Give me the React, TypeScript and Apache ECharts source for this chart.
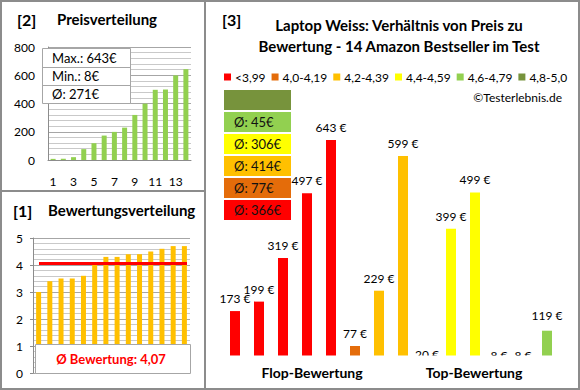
import React, { useEffect, useRef } from "react";
import * as echarts from "echarts";

// ---------- data ----------
const priceCategories = ["1", "2", "3", "4", "5", "6", "7", "8", "9", "10", "11", "12", "13", "14"];
const pricesSorted = [8, 8, 20, 77, 119, 173, 199, 229, 319, 399, 497, 499, 599, 643];
const ratingsSorted = [3.0, 3.4, 3.5, 3.5, 3.6, 4.0, 4.3, 4.3, 4.4, 4.4, 4.5, 4.6, 4.7, 4.7];
const ratingAverage = 4.07;
const ratingAverageLabel = "Ø Bewertung: 4,07";
const priceStats = ["Max.: 643€", "Min.: 8€", "Ø: 271€"];

const groupNames = ["<3,99", "4,0-4,19", "4,2-4,39", "4,4-4,59", "4,6-4,79", "4,8-5,0"];
const groupColors = ["#FF0000", "#E46C0A", "#FFC000", "#FFFF00", "#92D050", "#77933C"];
const productPrices = [173, 199, 319, 497, 643, 77, 229, 599, 20, 399, 499, 8, 8, 119];
const productGroup = [0, 0, 0, 0, 0, 1, 2, 2, 3, 3, 3, 4, 4, 4];
const groupAverages = ["Ø: 366€", "Ø: 77€", "Ø: 414€", "Ø: 306€", "Ø: 45€", ""];

const FONT = "Lato, 'Liberation Sans', sans-serif";
const GRID_COLOR = "#a6a6a6";
const MINOR_COLOR = "#c9c9c9";
const BORDER = "#8c8c8c";

export default function App() {
  const ref = useRef<HTMLDivElement>(null);

  useEffect(() => {
    document.body.style.margin = "0";
    if (!ref.current) return;
    const chart = echarts.init(ref.current, undefined, { renderer: "svg" });

    const graphic: any[] = [];
    // frame
    graphic.push({ type: "rect", z: 200, shape: { x: 1, y: 1, width: 578, height: 388 }, style: { fill: "none", stroke: BORDER, lineWidth: 2 } });
    graphic.push({ type: "line", z: 200, shape: { x1: 205, y1: 0, x2: 205, y2: 390 }, style: { stroke: BORDER, lineWidth: 2 } });
    graphic.push({ type: "line", z: 200, shape: { x1: 0, y1: 191, x2: 205, y2: 191 }, style: { stroke: BORDER, lineWidth: 2 } });

    const txt = (
      text: string,
      x: number,
      y: number,
      size: number,
      weight: string,
      align = "left",
      color = "#000",
      lineHeight?: number
    ) => ({
      type: "text",
      z: 120,
      x,
      y,
      style: {
        text,
        fontFamily: FONT,
        fontSize: size,
        fontWeight: weight,
        fill: color,
        align,
        verticalAlign: "middle",
        ...(lineHeight ? { lineHeight } : {}),
      },
    });

    graphic.push(txt("[2]", 17, 19, 16, "bold"));
    graphic.push(txt("Preisverteilung", 57, 19, 15, "bold"));
    graphic.push(txt("[1]", 13, 210, 16, "bold"));
    graphic.push(txt("Bewertungsverteilung", 48, 210, 15, "bold"));
    graphic.push(txt("[3]", 222, 19, 16, "bold"));
    graphic.push(txt("Laptop Weiss: Verhältnis von Preis zu", 399, 25, 15, "bold", "center"));
    graphic.push(txt("Bewertung - 14 Amazon Bestseller im Test", 399, 46, 15, "bold", "center"));
    graphic.push(txt("©Testerlebnis.de", 562, 97, 12, "normal", "right"));

    // price stats box
    graphic.push({ type: "rect", z: 100, shape: { x: 42.5, y: 48.5, width: 88, height: 55 }, style: { fill: "#fff", stroke: "#a6a6a6", lineWidth: 1 } });
    graphic.push({ type: "line", z: 101, shape: { x1: 42.5, y1: 67.5, x2: 130.5, y2: 67.5 }, style: { stroke: "#a6a6a6", lineWidth: 1 } });
    graphic.push({ type: "line", z: 101, shape: { x1: 42.5, y1: 85.5, x2: 130.5, y2: 85.5 }, style: { stroke: "#a6a6a6", lineWidth: 1 } });
    priceStats.forEach((s, i) => graphic.push(txt(s, 52, 58 + i * 18, 13, "normal")));

    // rating average box
    graphic.push({ type: "rect", z: 100, shape: { x: 35.5, y: 344.5, width: 155, height: 29 }, style: { fill: "#fff", stroke: "#a6a6a6", lineWidth: 1 } });
    graphic.push(txt(ratingAverageLabel, 111, 359, 13, "bold", "center", "#FF0000"));

    // group average boxes (bottom = red ... top = dark green)
    groupAverages.forEach((s, i) => {
      const y = 200 - i * 22;
      graphic.push({ type: "rect", z: 100, shape: { x: 224, y, width: 67, height: 20 }, style: { fill: groupColors[i] } });
      if (s) graphic.push(txt(s, 234, y + 10, 13, "normal", "left", "#111"));
    });

    // cover below plot baseline of right chart (clips low bars/labels)
    graphic.push({ type: "rect", z: 90, shape: { x: 207, y: 355.5, width: 370, height: 32 }, style: { fill: "#fff" } });
    graphic.push(txt("Flop-Bewertung", 312, 372, 14, "bold", "center", "#000", 13));
    graphic.push(txt("Top-Bewertung", 474, 372, 14, "bold", "center", "#000", 13));

    const rightSeries = groupNames.map((name, g) => ({
      type: "bar",
      name,
      xAxisIndex: 2,
      yAxisIndex: 2,
      barWidth: 10,
      barGap: "-100%",
      itemStyle: { color: groupColors[g] },
      label: {
        show: true,
        position: "top",
        distance: g === 4 ? 9 : 6,
        formatter: "{c} €",
        fontFamily: FONT,
        fontSize: 12,
        lineHeight: 13,
        color: "#000",
      },
      data: productPrices.map((p, i) => (productGroup[i] === g ? p : "-")),
    }));

    chart.setOption({
      animation: false,
      backgroundColor: "#fff",
      textStyle: { fontFamily: FONT },
      legend: {
        data: groupNames,
        left: 224,
        top: 71,
        icon: "rect",
        itemWidth: 7,
        itemHeight: 7,
        itemGap: 6,
        selectedMode: false,
        padding: 0,
        textStyle: { fontFamily: FONT, fontSize: 12, color: "#000", padding: [0, 0, 0, -1] },
      },
      grid: [
        { left: 48, top: 47, width: 143, height: 113 },
        { left: 33, top: 238, width: 157, height: 135 },
        { left: 223, top: 83, width: 336, height: 291 },
      ],
      xAxis: [
        {
          type: "category",
          gridIndex: 0,
          data: priceCategories,
          axisLine: { lineStyle: { color: "#8c8c8c" } },
          axisTick: { show: false },
          axisLabel: { interval: 1, margin: 15, fontSize: 12, color: "#000", fontFamily: FONT },
        },
        {
          type: "category",
          gridIndex: 1,
          data: priceCategories,
          axisLine: { show: false },
          axisTick: { show: false },
          axisLabel: { show: false },
        },
        {
          type: "category",
          gridIndex: 2,
          data: productPrices.map((_, i) => String(i + 1)),
          axisLine: { show: false },
          axisTick: { show: false },
          axisLabel: { show: false },
        },
      ],
      yAxis: [
        {
          type: "value",
          gridIndex: 0,
          min: 0,
          max: 800,
          interval: 200,
          axisLine: { show: true, lineStyle: { color: "#8c8c8c" } },
          axisTick: { show: false },
          axisLabel: { margin: 13, fontSize: 12, color: "#000", fontFamily: FONT },
          splitLine: { lineStyle: { color: GRID_COLOR } },
          minorTick: { show: false, splitNumber: 5 },
          minorSplitLine: { show: true, lineStyle: { color: MINOR_COLOR } },
        },
        {
          type: "value",
          gridIndex: 1,
          min: 0,
          max: 5,
          interval: 1,
          axisLine: { show: true, lineStyle: { color: "#8c8c8c" } },
          axisTick: { show: true, length: 3, lineStyle: { color: "#8c8c8c" } },
          axisLabel: { margin: 10, fontSize: 12, color: "#000", fontFamily: FONT },
          splitLine: { lineStyle: { color: GRID_COLOR } },
          minorTick: { show: false, splitNumber: 5 },
          minorSplitLine: { show: true, lineStyle: { color: MINOR_COLOR } },
        },
        {
          type: "value",
          gridIndex: 2,
          min: 0,
          max: 800,
          show: false,
          splitLine: { show: false },
        },
      ],
      series: [
        {
          type: "bar",
          xAxisIndex: 0,
          yAxisIndex: 0,
          barWidth: 5,
          itemStyle: { color: "#92D050" },
          data: pricesSorted,
        },
        {
          type: "bar",
          xAxisIndex: 1,
          yAxisIndex: 1,
          barWidth: 5,
          itemStyle: { color: "#FFC000" },
          data: ratingsSorted,
          markLine: {
            silent: true,
            symbol: "none",
            label: { show: false },
            lineStyle: { color: "#FF0000", width: 3, type: "solid" },
            data: [[{ coord: [0, ratingAverage], x: 39 }, { coord: [13, ratingAverage], x: 187 }]],
          },
        },
        ...rightSeries,
      ],
      graphic,
    });

    return () => chart.dispose();
  }, []);

  return <div ref={ref} style={{ width: 580, height: 390 }} />;
}
